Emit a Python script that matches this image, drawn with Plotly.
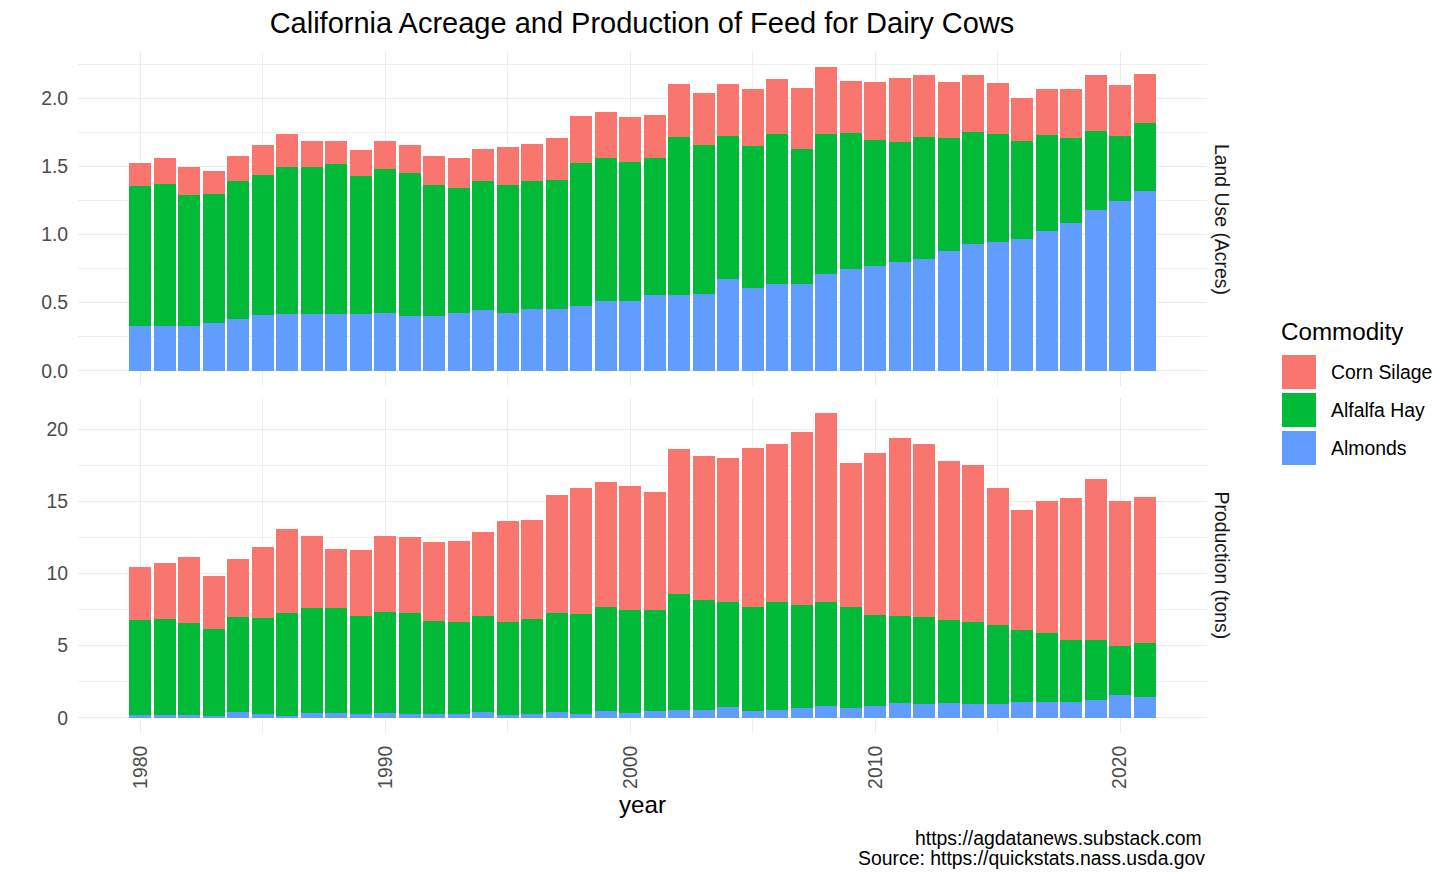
import plotly.graph_objects as go

years = list(range(1980, 2022))

# Land Use (Acres) — stacked segments
land_almonds = [0.327, 0.327, 0.332, 0.352, 0.379, 0.410, 0.420, 0.418, 0.418, 0.418,
                0.425, 0.400, 0.405, 0.425, 0.444, 0.427, 0.454, 0.454, 0.479, 0.515,
                0.515, 0.557, 0.557, 0.566, 0.674, 0.610, 0.640, 0.640, 0.713, 0.750,
                0.769, 0.801, 0.821, 0.879, 0.928, 0.947, 0.969, 1.028, 1.087, 1.182,
                1.248, 1.319]
land_alfalfa = [1.028, 1.048, 0.957, 0.945, 1.013, 1.026, 1.074, 1.076, 1.098, 1.015,
                1.055, 1.051, 0.958, 0.918, 0.948, 0.940, 0.938, 0.948, 1.045, 1.050,
                1.019, 1.008, 1.157, 1.090, 1.048, 1.038, 1.099, 0.986, 1.026, 0.996,
                0.928, 0.877, 0.898, 0.828, 0.825, 0.792, 0.718, 0.701, 0.620, 0.576,
                0.474, 0.498]
land_corn = [0.174, 0.190, 0.208, 0.171, 0.188, 0.222, 0.242, 0.193, 0.174, 0.186,
             0.207, 0.207, 0.217, 0.222, 0.234, 0.276, 0.273, 0.310, 0.346, 0.335,
             0.327, 0.310, 0.389, 0.383, 0.386, 0.423, 0.405, 0.452, 0.490, 0.383,
             0.422, 0.469, 0.454, 0.412, 0.420, 0.371, 0.313, 0.342, 0.359, 0.415,
             0.376, 0.364]

# Production (tons) — stacked segments
prod_almonds = [0.19, 0.21, 0.19, 0.12, 0.39, 0.26, 0.12, 0.35, 0.32, 0.28,
                0.35, 0.28, 0.28, 0.28, 0.42, 0.21, 0.28, 0.42, 0.28, 0.46,
                0.35, 0.46, 0.55, 0.53, 0.72, 0.49, 0.55, 0.67, 0.81, 0.69,
                0.81, 1.00, 0.95, 1.00, 0.95, 0.95, 1.09, 1.11, 1.11, 1.25,
                1.57, 1.44]
prod_alfalfa = [6.61, 6.61, 6.40, 6.05, 6.59, 6.65, 7.14, 7.24, 7.27, 6.79,
                7.00, 7.00, 6.45, 6.38, 6.63, 6.45, 6.56, 6.84, 6.93, 7.22,
                7.14, 7.03, 8.03, 7.63, 7.32, 7.17, 7.49, 7.12, 7.21, 6.99,
                6.31, 6.05, 6.01, 5.80, 5.69, 5.46, 5.01, 4.76, 4.30, 4.16,
                3.42, 3.72]
prod_corn = [3.65, 3.93, 4.58, 3.66, 4.00, 4.95, 5.83, 5.03, 4.11, 4.54,
             5.23, 5.25, 5.45, 5.57, 5.83, 6.98, 6.87, 8.16, 8.72, 8.69,
             8.56, 8.18, 10.05, 9.97, 9.97, 11.02, 10.92, 12.00, 13.09, 9.98,
             11.24, 12.32, 12.02, 10.98, 10.86, 9.50, 8.33, 9.14, 9.85, 11.12,
             10.06, 10.17]

commodities = ["Corn Silage", "Alfalfa Hay", "Almonds"]
colors = {"Corn Silage": "#F8766D", "Alfalfa Hay": "#00BA38", "Almonds": "#619CFF"}
panel_labels = ["Land Use (Acres)", "Production (tons)"]

# page body adds an 8px margin; work in reference-page pixels and shift
OFF = 8
W, H = 1456 - OFF, 881 - OFF
L, R, T, B = 78 - OFF, 1207 - OFF, 52 - OFF, 733 - OFF


def px2x(px):
    return (px - OFF - L) / (R - L)


def py2y(py):
    return (B - (py - OFF)) / (B - T)


FONT = "Liberation Sans, Arial, sans-serif"
SMALL = 19.4
BASE = 24.2
fig = go.Figure()

land = {"Almonds": land_almonds, "Alfalfa Hay": land_alfalfa, "Corn Silage": land_corn}
prod = {"Almonds": prod_almonds, "Alfalfa Hay": prod_alfalfa, "Corn Silage": prod_corn}

for name in ["Almonds", "Alfalfa Hay", "Corn Silage"]:
    fig.add_trace(go.Bar(x=years, y=land[name], name=name, width=0.9,
                         marker=dict(color=colors[name], line=dict(width=0)),
                         xaxis="x", yaxis="y", showlegend=False))
    fig.add_trace(go.Bar(x=years, y=prod[name], name=name, width=0.9,
                         marker=dict(color=colors[name], line=dict(width=0)),
                         xaxis="x2", yaxis="y2", showlegend=False))

grid_major = "#EBEBEB"
grid_minor = "#EFEFEF"
GW_MAJ, GW_MIN = 1.4, 0.8

xcommon = dict(range=[1977.455, 2023.545], tickvals=[1980, 1990, 2000, 2010, 2020],
               showgrid=True, gridcolor=grid_major, gridwidth=GW_MAJ, zeroline=False,
               minor=dict(tickvals=[1985, 1995, 2005, 2015], showgrid=True,
                          gridcolor=grid_minor, gridwidth=GW_MIN),
               showline=False)

top_dom = [py2y(386), 1.0]
bot_dom = [0.0, py2y(398)]

fig.update_layout(
    width=W, height=H,
    paper_bgcolor="white", plot_bgcolor="white",
    barmode="stack",
    margin=dict(l=L, r=W - R, t=T, b=H - B),
    font=dict(family=FONT, color="#000000"),
    title=dict(text="California Acreage and Production of Feed for Dairy Cows",
               x=(642 - OFF) / W, xanchor="center", y=1 - (23 - OFF) / H, yanchor="middle",
               font=dict(size=29, family=FONT, color="#000000")),
    xaxis=dict(**xcommon, anchor="y", showticklabels=False, domain=[0, 1]),
    xaxis2=dict(**xcommon, anchor="y2", domain=[0, 1], tickangle=-90,
                ticks="outside", ticklen=4, tickcolor="rgba(0,0,0,0)",
                tickfont=dict(size=SMALL, color="#4D4D4D", family=FONT),
                title=dict(text="year", font=dict(size=BASE, family=FONT, color="#000000"),
                           standoff=8)),
    yaxis=dict(domain=top_dom, range=[-0.1115, 2.3405], anchor="x",
               tickvals=[0, 0.5, 1.0, 1.5, 2.0], ticktext=["0.0", "0.5", "1.0", "1.5", "2.0"],
               showgrid=True, gridcolor=grid_major, gridwidth=GW_MAJ, zeroline=False,
               minor=dict(tickvals=[0.25, 0.75, 1.25, 1.75, 2.25], showgrid=True,
                          gridcolor=grid_minor, gridwidth=GW_MIN),
               ticks="outside", ticklen=5, tickcolor="rgba(0,0,0,0)",
               tickfont=dict(size=SMALL, color="#4D4D4D", family=FONT)),
    yaxis2=dict(domain=bot_dom, range=[-1.056, 22.17], anchor="x2",
                tickvals=[0, 5, 10, 15, 20],
                showgrid=True, gridcolor=grid_major, gridwidth=GW_MAJ, zeroline=False,
                minor=dict(tickvals=[2.5, 7.5, 12.5, 17.5], showgrid=True,
                           gridcolor=grid_minor, gridwidth=GW_MIN),
                ticks="outside", ticklen=5, tickcolor="rgba(0,0,0,0)",
                tickfont=dict(size=SMALL, color="#4D4D4D", family=FONT)),
)

annotations = []
shapes = []

# facet strip labels
for label, (y0, y1) in zip(panel_labels, [top_dom, bot_dom]):
    annotations.append(dict(text=label, textangle=90, x=px2x(1222), y=(y0 + y1) / 2,
                            xref="paper", yref="paper", showarrow=False,
                            xanchor="center", yanchor="middle",
                            font=dict(size=SMALL, family=FONT, color="#1A1A1A")))

# legend (drawn manually to match ggplot key size)
annotations.append(dict(text="Commodity", x=px2x(1279), y=py2y(331), xref="paper", yref="paper",
                        showarrow=False, xanchor="left", yanchor="middle",
                        font=dict(size=BASE, family=FONT, color="#000000")))
for i, name in enumerate(commodities):
    top = 355 + i * 38
    shapes.append(dict(type="rect", xref="paper", yref="paper",
                       x0=px2x(1282), x1=px2x(1316), y0=py2y(top + 34), y1=py2y(top),
                       fillcolor=colors[name], line=dict(width=0)))
    annotations.append(dict(text=name, x=px2x(1329), y=py2y(top + 17), xref="paper", yref="paper",
                            showarrow=False, xanchor="left", yanchor="middle",
                            font=dict(size=SMALL, family=FONT, color="#000000")))

# caption
annotations.append(dict(text="https://agdatanews.substack.com", x=px2x(1204), y=py2y(838),
                        xref="paper", yref="paper", showarrow=False,
                        xanchor="right", yanchor="middle",
                        font=dict(size=SMALL, family=FONT, color="#000000")))
annotations.append(dict(text="Source: https://quickstats.nass.usda.gov", x=px2x(1207), y=py2y(858),
                        xref="paper", yref="paper", showarrow=False,
                        xanchor="right", yanchor="middle",
                        font=dict(size=SMALL, family=FONT, color="#000000")))

fig.update_layout(annotations=annotations, shapes=shapes)

fig.write_html("out.html")
